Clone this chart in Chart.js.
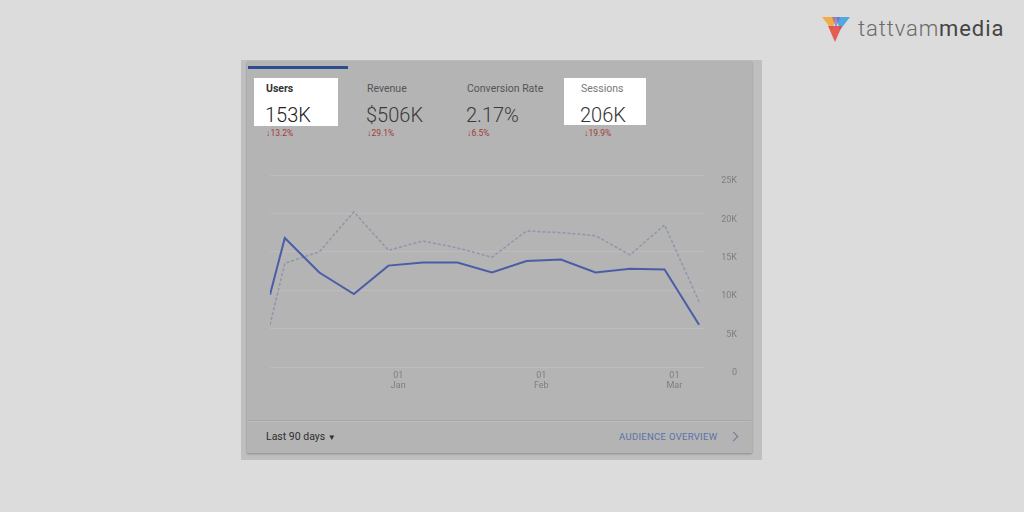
<!DOCTYPE html>
<html>
<head>
<meta charset="utf-8">
<script src="https://cdn.jsdelivr.net/npm/chart.js@4"></script>
<style>
  html, body { margin: 0; padding: 0; }
  body {
    width: 1024px; height: 512px; overflow: hidden; position: relative;
    background: #dcdcdc; font-family: Roboto, "Noto Sans", sans-serif;
  }
  .abs { position: absolute; }
  #frame { left: 241px; top: 60px; width: 521px; height: 400px; background: #bfbfbf; }
  #card { left: 247px; top: 61px; width: 505px; height: 392px; background: #b4b4b4;
          box-shadow: 0 1px 2px rgba(0,0,0,0.28); }
  #tab { left: 248px; top: 66px; width: 100px; height: 3px; background: #2e4a8e; }
  .hl { background: #fff; }
  .label { font-size: 10.5px; color: #555; white-space: nowrap; }
  .value { font-size: 20px; color: #3a3a3a; white-space: nowrap; font-weight: 300; }
  .delta { font-size: 8.5px; color: #a23a35; white-space: nowrap; }
  .delta b { font-size: 9px; }
  #sep { left: 248px; top: 420px; width: 503px; height: 1px; background: #a8a8a8;
         box-shadow: 0 1px 0 #bcbcbc; }
  #chartBox { left: 250px; top: 165px; width: 500px; height: 230px; }
  #logo { left: 858px; top: 16px; font-size: 22px; color: #6b6b6b; font-weight: 300;
          letter-spacing: 0.9px; white-space: nowrap; }
  #chev { left: 730px; top: 433px; width: 6px; height: 6px;
          border-top: 1.5px solid #6a7a9a; border-right: 1.5px solid #6a7a9a;
          transform: rotate(45deg); }
</style>
</head>
<body>
<div id="frame" class="abs"></div>
<div id="card" class="abs"></div>
<div id="tab" class="abs"></div>

<div class="abs hl" style="left:254px;top:78px;width:84px;height:48px;"></div>
<div class="abs hl" style="left:564px;top:78px;width:82px;height:47px;"></div>

<div class="abs label" style="left:266px;top:82px;color:#333;font-weight:bold;">Users</div>
<div class="abs value" style="left:265px;top:103px;color:#222;">153K</div>
<div class="abs delta" style="left:266px;top:128px;"><b>&#8595;</b>13.2%</div>

<div class="abs label" style="left:367px;top:82px;">Revenue</div>
<div class="abs value" style="left:366px;top:103px;">$506K</div>
<div class="abs delta" style="left:367px;top:128px;"><b>&#8595;</b>29.1%</div>

<div class="abs label" style="left:467px;top:82px;">Conversion Rate</div>
<div class="abs value" style="left:466px;top:103px;">2.17%</div>
<div class="abs delta" style="left:467px;top:128px;"><b>&#8595;</b>6.5%</div>

<div class="abs label" style="left:581px;top:82px;color:#777;">Sessions</div>
<div class="abs value" style="left:580px;top:103px;color:#333;">206K</div>
<div class="abs delta" style="left:584px;top:128px;"><b>&#8595;</b>19.9%</div>

<div class="abs" id="chartBox"><canvas id="chart" width="500" height="230"></canvas></div>

<div id="sep" class="abs"></div>
<div class="abs" style="left:266px;top:430px;font-size:10.5px;color:#2f2f2f;white-space:nowrap;">Last 90 days <span style="font-size:8px;">&#9660;</span></div>
<div class="abs" style="left:619px;top:431px;font-size:9.5px;color:#5a72a8;letter-spacing:0.3px;white-space:nowrap;">AUDIENCE OVERVIEW</div>
<div id="chev" class="abs"></div>

<svg class="abs" style="left:820px;top:14px;" width="32" height="30" viewBox="0 0 32 30">
  <polygon points="2,3 16,3 12,16" fill="#f2a93b" opacity="0.9"/>
  <polygon points="16,3 30,3 20,16" fill="#3b9ee0" opacity="0.85"/>
  <polygon points="8,12 22,12 15,28" fill="#e2463d" opacity="0.85"/>
  <polygon points="12,3 20,3 16,14" fill="#7a5cc0" opacity="0.6"/>
</svg>
<div id="logo" class="abs">tattvam<span style="color:#444;font-weight:400;">media</span></div>

<script>
// x positions in days since the start of the 90 day range
const pointDays = [0, 3, 10, 17, 24, 31, 38, 45, 52, 59, 66, 73, 80, 87];

// Users (solid) and Sessions (dotted), weekly
const usersValues = [9400, 16800, 12300, 9500, 13200, 13600, 13600, 12300, 13800, 14000, 12300, 12800, 12700, 5500];
const sessionsValues = [5500, 13500, 15000, 20200, 15200, 16400, 15500, 14300, 17700, 17500, 17100, 14600, 18500, 8500];

// month ticks on the x axis
const tickDays = [26, 55, 82];
const tickLabels = [['01', 'Jan'], ['01', 'Feb'], ['01', 'Mar']];

const yTicks = [0, 5000, 10000, 15000, 20000, 25000];

function toPoints(values) {
    return values.map((v, i) => ({ x: pointDays[i], y: v }));
}

const ctx = document.getElementById('chart').getContext('2d');
new Chart(ctx, {
    type: 'line',
    data: {
        datasets: [
            {
                label: 'Users',
                data: toPoints(usersValues),
                borderColor: '#4a5ea7',
                borderWidth: 2,
                pointRadius: 0,
                tension: 0,
                order: 1
            },
            {
                label: 'Sessions',
                data: toPoints(sessionsValues),
                borderColor: '#8d96aa',
                borderWidth: 1.5,
                borderDash: [3, 2],
                pointRadius: 0,
                tension: 0,
                order: 2
            }
        ]
    },
    options: {
        responsive: false,
        animation: false,
        layout: { padding: { left: 20, top: 10, right: 13, bottom: 0 } },
        plugins: {
            legend: { display: false },
            tooltip: { enabled: false }
        },
        scales: {
            x: {
                type: 'linear',
                min: 0,
                max: 88,
                grid: { display: false, drawTicks: false },
                border: { display: false },
                afterBuildTicks: function(scale) {
                    scale.ticks = tickDays.map(v => ({ value: v }));
                },
                afterFit: function(scale) {
                    scale.height = 28;
                    scale.paddingLeft = 0;
                    scale.paddingRight = 0;
                },
                ticks: {
                    padding: 4,
                    maxRotation: 0,
                    autoSkip: false,
                    color: '#7e7e7e',
                    font: { family: 'Roboto', size: 9, lineHeight: 1.1 },
                    callback: function(value, index) { return tickLabels[index]; }
                }
            },
            y: {
                position: 'right',
                min: 0,
                max: 25000,
                grid: { color: '#bcbcbc', lineWidth: 1, drawTicks: false },
                border: { display: false },
                afterBuildTicks: function(scale) {
                    scale.ticks = yTicks.map(v => ({ value: v }));
                },
                afterFit: function(scale) {
                    scale.width = 33;
                    scale.paddingTop = 0;
                    scale.paddingBottom = 0;
                },
                ticks: {
                    crossAlign: 'far',
                    padding: 17,
                    labelOffset: 6,
                    color: '#7e7e7e',
                    font: { family: 'Roboto', size: 9 },
                    callback: function(value) { return value === 0 ? '0' : (value / 1000) + 'K'; }
                }
            }
        }
    }
});
</script>
</body>
</html>
